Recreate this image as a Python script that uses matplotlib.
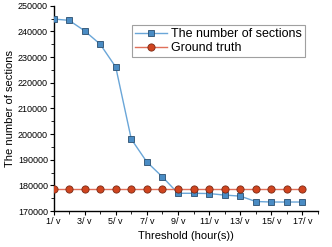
import matplotlib
matplotlib.use("Agg")
import matplotlib.pyplot as plt
from matplotlib.ticker import MultipleLocator

plt.rcParams['font.family'] = ['Liberation Sans', 'DejaVu Sans']

thresholds = list(range(1, 18))
sections = [244800, 244300, 240200, 235000, 226100, 198000, 189100, 183300,
            176900, 176900, 176800, 176200, 175800, 173700, 173500, 173500, 173500]
ground_truth = [178500] * 17
tick_values = list(range(1, 18, 2))
tick_labels = [f"{t}/ v" for t in tick_values]
y_ticks = list(range(170000, 250001, 10000))

fig = plt.figure(figsize=(3.32, 2.47), dpi=100)
ax = fig.add_axes([53.5/332, 1 - 211/247, (318 - 53.5)/332, (211 - 5.7)/247])

ax.plot(thresholds, sections, color='#6AA6D8', lw=1.0, marker='s', ms=4.8,
        mfc='#4A8CC4', mec='#2B4E6E', mew=0.6, label='The number of sections', zorder=3)
ax.plot(thresholds, ground_truth, color='#E0705A', lw=1.0, marker='o', ms=5.2,
        mfc='#D0441F', mec='#7A2A15', mew=0.6, label='Ground truth', zorder=3)

ax.set_xlim(1, 18)
ax.set_ylim(170000, 250000)
ax.set_xticks(tick_values)
ax.set_xticklabels(tick_labels)
ax.xaxis.set_minor_locator(MultipleLocator(1))
ax.set_yticks(y_ticks)
ax.yaxis.set_minor_locator(MultipleLocator(5000))

for s in ['top', 'right']:
    ax.spines[s].set_visible(False)
for s in ['left', 'bottom']:
    ax.spines[s].set_linewidth(1.0)
    ax.spines[s].set_color('black')

ax.tick_params(axis='both', which='major', direction='out', length=3, width=0.8,
               labelsize=6.5, pad=1)
ax.tick_params(axis='both', which='minor', direction='out', length=2, width=0.6)

ax.set_xlabel('Threshold (hour(s))', fontsize=8, labelpad=4)
ax.set_ylabel('The number of sections', fontsize=8, labelpad=2)

leg = ax.legend(loc='upper right', bbox_to_anchor=(305/332, 1 - 25/247),
                bbox_transform=fig.transFigure, fontsize=9, frameon=True,
                fancybox=False, handlelength=2.6, handletextpad=0.3,
                borderpad=0.25, labelspacing=0.15, borderaxespad=0)
leg.get_frame().set_edgecolor('#888888')
leg.get_frame().set_linewidth(0.8)

fig.savefig('out.png', dpi=100)
